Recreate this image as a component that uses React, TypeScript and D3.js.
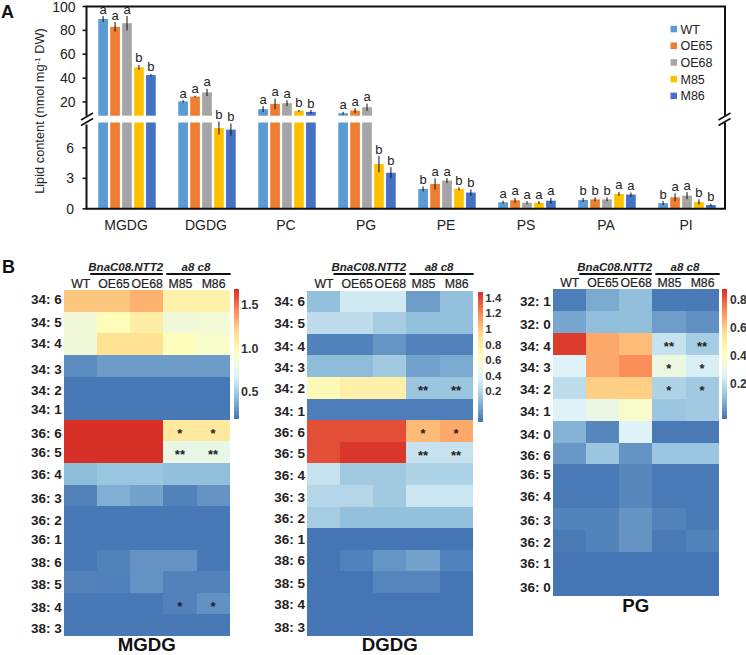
import * as d3 from "d3";

const lipidClasses = ["MGDG", "DGDG", "PC", "PG", "PE", "PS", "PA", "PI"];
const genotypes = ["WT", "OE65", "OE68", "M85", "M86"];
const genotypeColors = ["#5B9BD5", "#ED7D31", "#A5A5A5", "#FFC000", "#4472C4"];

// bar values, one row per genotype, same order as lipidClasses
const wtValues = [89.5, 20.5, 14, 10.6, 1.96, 0.64, 0.87, 0.56];
const oe65Values = [83, 24.5, 18.4, 12.8, 2.45, 0.84, 0.93, 1.13];
const oe68Values = [86, 28, 19, 15.6, 2.78, 0.6, 0.93, 1.3];
const m85Values = [49, 7.95, 12.5, 4.4, 1.96, 0.6, 1.46, 0.67];
const m86Values = [42.5, 7.8, 11.7, 3.55, 1.6, 0.8, 1.4, 0.37];

const wtErrors = [2.5, 1, 2.5, 1.2, 0.25, 0.15, 0.2, 0.2];
const oe65Errors = [4, 0.7, 4.5, 2, 0.55, 0.25, 0.2, 0.4];
const oe68Errors = [6, 3, 2.5, 3, 0.25, 0.15, 0.2, 0.35];
const m85Errors = [2, 0.65, 0.8, 0.8, 0.15, 0.15, 0.2, 0.25];
const m86Errors = [1, 0.6, 1.5, 0.55, 0.3, 0.27, 0.2, 0.13];

const barValues = [wtValues, oe65Values, oe68Values, m85Values, m86Values];
const barErrors = [wtErrors, oe65Errors, oe68Errors, m85Errors, m86Errors];

const sigLetters = [
  ["a", "a", "a", "a", "b", "a", "b", "b"],
  ["a", "a", "a", "a", "a", "a", "b", "a"],
  ["a", "a", "a", "a", "a", "a", "b", "a"],
  ["b", "b", "b", "b", "b", "a", "a", "b"],
  ["b", "b", "b", "b", "b", "a", "a", "b"],
];

const upperTicks = [20, 40, 60, 80, 100];
const lowerTicks = [0, 3, 6];

// heatmap data
const mgdgRows = ["34: 6", "34: 5", "34: 4", "34: 3", "34: 2", "34: 1", "36: 6", "36: 5", "36: 4", "36: 3", "36: 2", "36: 1", "38: 6", "38: 5", "38: 4", "38: 3"];
const mgdgValues = [
  [1.26, 1.26, 1.32, 1.05, 1.05],
  [0.82, 0.965, 1.08, 0.82, 0.83],
  [0.82, 1.16, 1.16, 0.95, 0.875],
  [0.265, 0.32, 0.32, 0.32, 0.32],
  [0.2, 0.2, 0.2, 0.2, 0.2],
  [0.2, 0.2, 0.2, 0.2, 0.2],
  [1.68, 1.68, 1.68, 1.11, 1.11],
  [1.68, 1.68, 1.68, 0.76, 0.76],
  [0.43, 0.47, 0.47, 0.44, 0.44],
  [0.235, 0.385, 0.34, 0.235, 0.295],
  [0.2, 0.2, 0.2, 0.2, 0.2],
  [0.2, 0.2, 0.2, 0.2, 0.2],
  [0.2, 0.235, 0.295, 0.295, 0.2],
  [0.235, 0.23, 0.295, 0.235, 0.235],
  [0.2, 0.2, 0.2, 0.235, 0.285],
  [0.2, 0.2, 0.2, 0.2, 0.2],
];
const mgdgStars = [
  { row: "36: 6", col: "M85", mark: "*" },
  { row: "36: 6", col: "M86", mark: "*" },
  { row: "36: 5", col: "M85", mark: "**" },
  { row: "36: 5", col: "M86", mark: "**" },
  { row: "38: 4", col: "M85", mark: "*" },
  { row: "38: 4", col: "M86", mark: "*" },
];
const mgdgTickValues = [1.5, 1.0, 0.5];
const mgdgTickLabels = ["1.5", "1.0", "0.5"];
const mgdgNudge = [-1.8, -0.7, -1, 3.1, 2.8, 0.2, 2.3, 0, 0.4, 2.8, 3.2, 0.6, 1.7, 2.4, 3.8, 3.2];

const dgdgRows = mgdgRows;
const dgdgValues = [
  [0.144, 0.305, 0.305, 0.076, 0.144],
  [0.24, 0.24, 0.177, 0.144, 0.144],
  [0.025, 0.025, 0.06, 0.025, 0.025],
  [0.135, 0.135, 0.17, 0.085, 0.1],
  [0.69, 0.77, 0.77, 0.16, 0.16],
  [0.017, 0.017, 0.017, 0.017, 0.017],
  [1.38, 1.38, 1.38, 1.04, 1.1],
  [1.38, 1.45, 1.45, 0.27, 0.27],
  [0.27, 0.17, 0.17, 0.195, 0.195],
  [0.205, 0.205, 0.17, 0.29, 0.29],
  [0.177, 0.144, 0.144, 0.144, 0.144],
  [0, 0, 0, 0, 0],
  [0, 0.025, 0.06, 0.085, 0.025],
  [0, 0, 0.03, 0.03, 0],
  [0, 0, 0, 0, 0],
  [0, 0, 0, 0, 0],
];
const dgdgStars = [
  { row: "34: 2", col: "M85", mark: "**" },
  { row: "34: 2", col: "M86", mark: "**" },
  { row: "36: 6", col: "M85", mark: "*" },
  { row: "36: 6", col: "M86", mark: "*" },
  { row: "36: 5", col: "M85", mark: "**" },
  { row: "36: 5", col: "M86", mark: "**" },
];
const dgdgTickValues = [1.4, 1.2, 1, 0.8, 0.6, 0.4, 0.2];
const dgdgTickLabels = ["1.4", "1.2", "1", "0.8", "0.6", "0.4", "0.2"];
const dgdgNudge = [-0.5, -0.1, 2, 0.8, 0.2, 2.3, 1, 0.4, 0.8, 1, 0.7, 0.1, 0.2, 0.7, 0.4, 1.8];

const pgRows = ["32: 1", "32: 0", "34: 4", "34: 3", "34: 2", "34: 1", "34: 0", "36: 6", "36: 5", "36: 4", "36: 3", "36: 2", "36: 1", "36: 0"];
const pgValues = [
  [0.015, 0.09, 0.128, 0.008, 0.008],
  [0.083, 0.125, 0.125, 0.068, 0.045],
  [0.856, 0.673, 0.636, 0.214, 0.159],
  [0.26, 0.673, 0.72, 0.324, 0.25],
  [0.196, 0.6, 0.6, 0.174, 0.151],
  [0.26, 0.315, 0.38, 0.143, 0.151],
  [0.106, 0.03, 0.26, 0.008, 0.008],
  [0.06, 0.143, 0.053, 0.143, 0.143],
  [0.008, 0.008, 0.03, 0.008, 0.008],
  [0.008, 0.008, 0.03, 0.008, 0.008],
  [0.023, 0.023, 0.053, 0.023, 0.008],
  [0.008, 0.023, 0.053, 0.008, 0.023],
  [0, 0, 0, 0, 0],
  [0, 0, 0, 0, 0],
];
const pgStars = [
  { row: "34: 4", col: "M85", mark: "**" },
  { row: "34: 4", col: "M86", mark: "**" },
  { row: "34: 3", col: "M85", mark: "*" },
  { row: "34: 3", col: "M86", mark: "*" },
  { row: "34: 2", col: "M85", mark: "*" },
  { row: "34: 2", col: "M86", mark: "*" },
];
const pgTickValues = [0.8, 0.6, 0.4, 0.2];
const pgTickLabels = ["0.8", "0.6", "0.4", "0.2"];
const pgNudge = [0.8, 1.9, 1.7, 1.4, 1.5, 1.3, 2.4, 2.2, -1.4, -1.3, 1.5, 1.2, 0.3, 2.4];

const FONT = "'Liberation Sans', Arial, sans-serif";
const INK = "#222";

// pheatmap palette: reversed 7-class RdYlBu
const heatColor = d3.piecewise(d3.interpolateRgb, [...d3.schemeRdYlBu[7]].reverse());

// ---- bar panel scales
const LEFT = 86.5;
const RIGHT = 725;
const TOP = 6.5;
const BOTTOM = 208.8;
const BREAK_VALUE = 8.5;
const yHigh = d3.scaleLinear().domain([BREAK_VALUE, 100]).range([115.7, TOP]);
const yLow = d3.scaleLinear().domain([0, BREAK_VALUE]).range([BOTTOM, 122.5]);
const xClass = d3.scaleBand().domain(lipidClasses).range([87, 727]);
const xBar = d3.scaleBand().domain(genotypes).range([9, 71]).padding(0.19);

function BarPanel() {
  const breakMarks = [LEFT - 5.5, RIGHT - 6.5];
  return (
    <g fontFamily={FONT} fill={INK}>
      {lipidClasses.map((name, c) =>
        genotypes.map((g, s) => {
          const v = barValues[s][c];
          const e = barErrors[s][c];
          const x = xClass(name)! + xBar(g)!;
          const w = xBar.bandwidth();
          const cx = x + w / 2;
          // the error bar stays on the same side of the axis break as its bar
          const yBar = v > BREAK_VALUE ? yHigh : yLow;
          const errTop = yBar(v + e);
          return (
            <g key={name + g}>
              {v > BREAK_VALUE ? (
                <>
                  <rect x={x} width={w} y={yHigh(v)} height={yHigh(BREAK_VALUE) - yHigh(v)} fill={genotypeColors[s]} />
                  <rect x={x} width={w} y={yLow(BREAK_VALUE)} height={yLow(0) - yLow(BREAK_VALUE)} fill={genotypeColors[s]} />
                </>
              ) : (
                <rect x={x} width={w} y={yLow(v)} height={yLow(0) - yLow(v)} fill={genotypeColors[s]} />
              )}
              <line x1={cx} x2={cx} y1={errTop} y2={yBar(v - e)} stroke="#111" strokeWidth={1} />
              <text x={cx} y={errTop - 2.5} textAnchor="middle" fontSize={13}>
                {sigLetters[s][c]}
              </text>
            </g>
          );
        })
      )}

      {/* frame, broken at the axis gap */}
      <path
        d={`M${LEFT},${yLow(BREAK_VALUE) + 2}V${BOTTOM}H${RIGHT}V${yLow(BREAK_VALUE)}M${RIGHT},${yHigh(BREAK_VALUE)}V${TOP}H${LEFT}V${yHigh(BREAK_VALUE)}`}
        fill="none"
        stroke="#111"
        strokeWidth={2}
      />
      {breakMarks.map(x => (
        <g key={x} stroke="#111" strokeWidth={1.6}>
          <line x1={x} x2={x + 12} y1={120} y2={113} />
          <line x1={x} x2={x + 12} y1={125.5} y2={118.5} />
        </g>
      ))}

      {upperTicks.map(t => (
        <g key={t}>
          <line x1={LEFT - 4} x2={LEFT} y1={yHigh(t)} y2={yHigh(t)} stroke="#111" strokeWidth={1.5} />
          <text x={75.5} y={yHigh(t) + 5} textAnchor="end" fontSize={14}>
            {t}
          </text>
        </g>
      ))}
      {lowerTicks.map(t => (
        <g key={t}>
          <line x1={LEFT - 4} x2={LEFT} y1={yLow(t)} y2={yLow(t)} stroke="#111" strokeWidth={1.5} />
          <text x={74} y={yLow(t) + 5} textAnchor="end" fontSize={14}>
            {t}
          </text>
        </g>
      ))}

      <text transform="translate(44,111) rotate(-90)" textAnchor="middle" fontSize={12.8}>
        Lipid content (nmol mg
        <tspan fontSize={8} dy={-4}>
          -1
        </tspan>
        <tspan dy={4}> DW)</tspan>
      </text>

      {lipidClasses.map(name => (
        <text key={name} x={xClass(name)! + xClass.bandwidth() / 2 - 1} y={230} textAnchor="middle" fontSize={14}>
          {name}
        </text>
      ))}

      {genotypes.map((g, i) => (
        <g key={g} transform={`translate(670.5,${29 + i * 16.7})`}>
          <rect x={0} y={-3.2} width={6.5} height={6.5} fill={genotypeColors[i]} />
          <text x={10} y={4.5} fontSize={12.5}>
            {g}
          </text>
        </g>
      ))}

      <text x={1} y={18} fontSize={18} fontWeight="bold" fill="#111">
        A
      </text>
      <text x={2} y={273} fontSize={18} fontWeight="bold" fill="#111">
        B
      </text>
    </g>
  );
}

// ---- heatmap panel
interface HeatmapProps {
  title: string;
  rows: string[];
  values: number[][];
  stars: { row: string; col: string; mark: string }[];
  tickValues: number[];
  tickLabels: string[];
  nudge: number[];
  domain: number[];
  stops: number[];
  x0: number;
  x1: number;
  y0: number;
  y1: number;
  bar: [number, number, number, number];
  tickX: number;
  tickSize: number;
  titleY: number;
}

function Heatmap(p: HeatmapProps) {
  const x = d3.scaleBand().domain(genotypes).range([p.x0, p.x1]);
  const y = d3.scaleBand().domain(p.rows).range([p.y0, p.y1]);
  // value to colour position; the colour key is not quite linear at its low end
  const pos = d3.scaleLinear().domain(p.domain).range(p.stops).clamp(true);
  const [bx0, bx1, by0, by1] = p.bar;
  const barY = d3.scaleLinear().domain([0, 1]).range([by1, by0]);
  const steps = d3.range(100).map(i => i / 100);
  const mid = (p.x0 + p.x1) / 2;
  const split = x("M85")!;

  return (
    <g fontFamily={FONT} fill={INK}>
      <g shapeRendering="crispEdges">
        {p.rows.map((row, r) =>
          genotypes.map((g, c) => (
            <rect
              key={row + g}
              x={x(g)}
              y={y(row)}
              width={x.bandwidth()}
              height={y.bandwidth()}
              fill={heatColor(pos(p.values[r][c]))}
            />
          ))
        )}
        {steps.map(t => (
          <rect key={t} x={bx0} width={bx1 - bx0} y={barY(t + 0.01)} height={(by1 - by0) / 100 + 0.4} fill={heatColor(t + 0.005)} />
        ))}
      </g>
      {p.rows.map((row, r) => (
        <text
          key={row}
          x={p.x0 - 2}
          y={y(row)! + y.bandwidth() / 2 + p.nudge[r] + 4.8}
          textAnchor="end"
          fontSize={13.5}
          fontWeight="bold"
        >
          {row}
        </text>
      ))}
      {p.stars.map(s => (
        <text
          key={s.row + s.col}
          x={x(s.col)! + x.bandwidth() / 2}
          y={y(s.row)! + y.bandwidth() / 2 + 7}
          textAnchor="middle"
          fontSize={13}
          fontWeight="bold"
        >
          {s.mark}
        </text>
      ))}
      {genotypes.map(g => (
        <text key={g} x={x(g)! + x.bandwidth() / 2 + 0.5} y={p.y0 - 2.3} textAnchor="middle" fontSize={12.3} stroke={INK} strokeWidth={0.2}>
          {g}
        </text>
      ))}

      <text x={mid - 21} y={270.5} textAnchor="middle" fontSize={11.5} fontWeight="bold" fontStyle="italic">
        BnaC08.NTT2
      </text>
      <line x1={p.x0 + 26.5} x2={split - 0.5} y1={274} y2={274} stroke="#111" strokeWidth={1.8} />
      <text x={split + x.bandwidth() - 0.5} y={270.5} textAnchor="middle" fontSize={11.5} fontWeight="bold" fontStyle="italic">
        a8 c8
      </text>
      <line x1={split + 3} x2={p.x1 + 1} y1={274} y2={274} stroke="#111" strokeWidth={1.8} />

      {p.tickValues.map((v, i) => (
        <text key={v} x={p.tickX} y={barY(pos(v)) + 4.5} fontSize={p.tickSize} fontWeight="bold" fill="#333">
          {p.tickLabels[i]}
        </text>
      ))}

      <text x={mid} y={p.titleY} textAnchor="middle" fontSize={18.7} fontWeight="bold" fill="#111">
        {p.title}
      </text>
    </g>
  );
}

export default function App() {
  return (
    <svg width={746} height={655} style={{ position: "absolute", left: 0, top: 0, background: "#fff" }}>
      <BarPanel />
      <Heatmap
        title="MGDG"
        rows={mgdgRows}
        values={mgdgValues}
        stars={mgdgStars}
        tickValues={mgdgTickValues}
        tickLabels={mgdgTickLabels}
        nudge={mgdgNudge}
        domain={[0.19, 1.68]}
        stops={[0, 1]}
        x0={63.7}
        x1={229.7}
        y0={290}
        y1={636}
        bar={[234.3, 239.3, 289.3, 418.3]}
        tickX={241}
        tickSize={12.5}
        titleY={651}
      />
      <Heatmap
        title="DGDG"
        rows={dgdgRows}
        values={dgdgValues}
        stars={dgdgStars}
        tickValues={dgdgTickValues}
        tickLabels={dgdgTickLabels}
        nudge={dgdgNudge}
        domain={[0, 0.2, 1.47]}
        stops={[0, 0.2366, 1]}
        x0={307}
        x1={472.7}
        y0={290.7}
        y1={636}
        bar={[478, 483.3, 292, 421.3]}
        tickX={485.3}
        tickSize={11.5}
        titleY={651}
      />
      <Heatmap
        title="PG"
        rows={pgRows}
        values={pgValues}
        stars={pgStars}
        tickValues={pgTickValues}
        tickLabels={pgTickLabels}
        nudge={pgNudge}
        domain={[0, 0.2, 0.875]}
        stops={[0, 0.265, 1]}
        x0={552.7}
        x1={718.7}
        y0={289.3}
        y1={595.7}
        bar={[721.7, 727.3, 288.7, 418.3]}
        tickX={730}
        tickSize={12}
        titleY={611.7}
      />
    </svg>
  );
}
